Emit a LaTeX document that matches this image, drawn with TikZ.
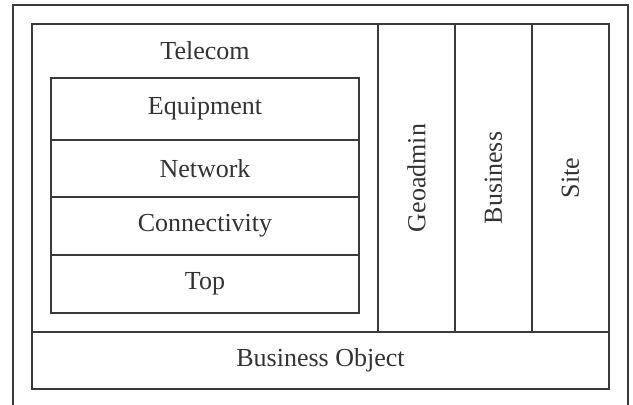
\documentclass[tikz,border=0pt]{standalone}
\usepackage{fontspec}
\setmainfont{Liberation Serif}
\definecolor{linec}{HTML}{3A3A3C}
\definecolor{textc}{HTML}{333333}
\tikzset{
  cell/.style={draw=linec, line width=1.5pt, rectangle, inner sep=0pt, text=textc,
    font=\fontsize{26}{30}\selectfont},
  lbl/.style={inner sep=0pt, text=textc, font=\fontsize{26}{30}\selectfont},
}
\begin{document}
\begin{tikzpicture}[x=1pt,y=-1pt]
\useasboundingbox (0,0) rectangle (633,405);
% outer open frame
\coordinate (ob1) at (13,405);
\coordinate (ot1) at (13,5);
\coordinate (ot2) at (628,5);
\coordinate (ob2) at (628,405);
\draw[linec, line width=1.5pt] (ob1) -- (ot1) -- (ot2) -- (ob2);
% main frame
\node[cell, minimum width=577pt, minimum height=365pt] (frame) at (320.5,206.5) {};
\node[cell, minimum width=346pt, minimum height=308pt] (telecom) at (205,178) {};
\node[lbl] (telecomlbl) at (205,51) {Telecom};
\node[cell, minimum width=77pt, minimum height=308pt] (geo) at (416.5,178) {};
\node[cell, minimum width=77pt, minimum height=308pt] (bus) at (493.5,178) {};
\node[cell, minimum width=77pt, minimum height=308pt] (site) at (570.5,178) {};
\node[lbl, rotate=90] (geolbl) at (geo.center) {Geoadmin};
\node[lbl, rotate=90] (buslbl) at (bus.center) {Business};
\node[lbl, rotate=90] (sitelbl) at (site.center) {Site};
\node[cell, minimum width=577pt, minimum height=57pt] (bo) at (320.5,360.5) {Business Object};
% telecom stack
\node[cell, minimum width=308pt, minimum height=62pt] (equip) at (205,109) {Equipment};
\node[cell, minimum width=308pt, minimum height=57pt] (net) at (205,168.5) {Network};
\node[cell, minimum width=308pt, minimum height=58pt] (conn) at (205,226) {Connectivity};
\node[cell, minimum width=308pt, minimum height=58pt] (top) at (205,284) {Top};
\end{tikzpicture}
\end{document}
